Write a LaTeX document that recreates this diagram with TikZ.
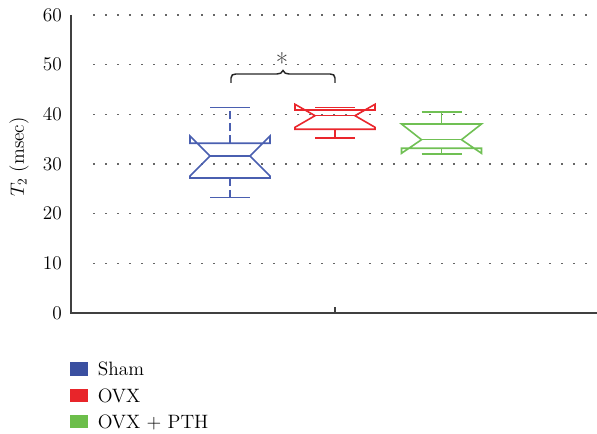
\documentclass[tikz,border=0pt]{standalone}
\begin{document}
\begin{tikzpicture}[x=0.75pt,y=-0.75pt,
  boxline/.style={line width=1.2pt, line join=miter},
  grid/.style={line width=1.1pt, black!60, dash pattern=on 0.9pt off 8.1pt, dash phase=-8.1pt},
  axis/.style={line width=1.3pt, black!75},
  lab/.style={font=\fontsize{14.5}{16}\selectfont, inner sep=0pt},
  leg/.style={font=\fontsize{14.5}{16}\selectfont, inner sep=0pt, anchor=west}]
\definecolor{shamc}{RGB}{74,95,176}
\definecolor{ovxc}{RGB}{234,38,44}
\definecolor{pthc}{RGB}{112,192,84}
\definecolor{shamf}{RGB}{58,79,160}
\definecolor{ovxf}{RGB}{232,37,42}
\definecolor{pthf}{RGB}{108,190,74}
\useasboundingbox (0,0) rectangle (597,434);
% grid
\foreach \yy in {15,64.7,114.3,164,213.7,263.3}
  \draw[grid] (82.5,\yy) -- (592,\yy);
% axes
\draw[axis] (71,15) -- (71,313) -- (597,313);
\draw[axis] (335,313) -- (335,307);
% tick labels
\foreach \v/\yy in {0/313,10/263.3,20/213.7,30/164,40/114.3,50/64.7,60/15}
  \node[lab, anchor=east] (t\v) at (62,\yy) {\v};
\node[lab, rotate=90] (ylab) at (19,157) {$T_2$ (msec)};
% Sham
\begin{scope}[shamc]
\draw[boxline] (190,178) -- (190,176) -- (210,156) -- (190,136) -- (190,143.3) -- (270,143.3) -- (270,136) -- (250,156) -- (270,176) -- (270,178) -- cycle;
\draw[boxline] (210,156) -- (250,156);
\draw[boxline, dash pattern=on 6pt off 3pt] (230,143.3) -- (230,107.7);
\draw[boxline, dash pattern=on 6pt off 3pt] (230,178) -- (230,197.7);
\draw[boxline] (210,107.7) -- (250,107.7);
\draw[boxline] (210,197.7) -- (250,197.7);
\end{scope}
% OVX
\begin{scope}[ovxc]
\draw[boxline] (295,129.3) -- (295,127.3) -- (315,115.7) -- (295,104.3) -- (295,110) -- (375,110) -- (375,104.3) -- (355,115.7) -- (375,127.3) -- (375,129.3) -- cycle;
\draw[boxline] (315,115.7) -- (355,115.7);
\draw[boxline] (315,107.7) -- (355,107.7);
\draw[boxline] (335,129.3) -- (335,138);
\draw[boxline] (315,138) -- (355,138);
\end{scope}
% OVX + PTH
\begin{scope}[pthc]
\draw[boxline] (401.5,124) -- (421.5,139.7) -- (401.5,153.3) -- (401.5,148.3) -- (481.5,148.3) -- (481.5,153.3) -- (461.5,139.7) -- (481.5,124) -- cycle;
\draw[boxline] (421.5,139.7) -- (461.5,139.7);
\draw[boxline] (441.5,124) -- (441.5,112);
\draw[boxline] (421.5,112) -- (461.5,112);
\draw[boxline] (441.5,148.3) -- (441.5,154);
\draw[boxline] (421.5,154) -- (461.5,154);
\end{scope}
% brace
\draw[line width=1.1pt, black!85] (231,83) -- (231,78) .. controls (231,75) and (233,74) .. (236,74) -- (277,74) .. controls (280,74) and (282,73) .. (283,70.5) .. controls (284,73) and (286,74) .. (289,74) -- (330,74) .. controls (333,74) and (335,75) .. (335,78) -- (335,83);
\node[font=\fontsize{20}{22}\selectfont, inner sep=0pt, text=black!80] (star) at (282,63) {*};
% legend
\fill[shamf] (70,362) rectangle (88,376);
\fill[ovxf] (70,389) rectangle (88,402.5);
\fill[pthf] (70,415) rectangle (88,428.5);
\node[leg] (l1) at (97.5,369) {Sham};
\node[leg] (l2) at (97.5,395.5) {OVX};
\node[leg] (l3) at (97.5,422) {OVX + PTH};
\end{tikzpicture}
\end{document}
